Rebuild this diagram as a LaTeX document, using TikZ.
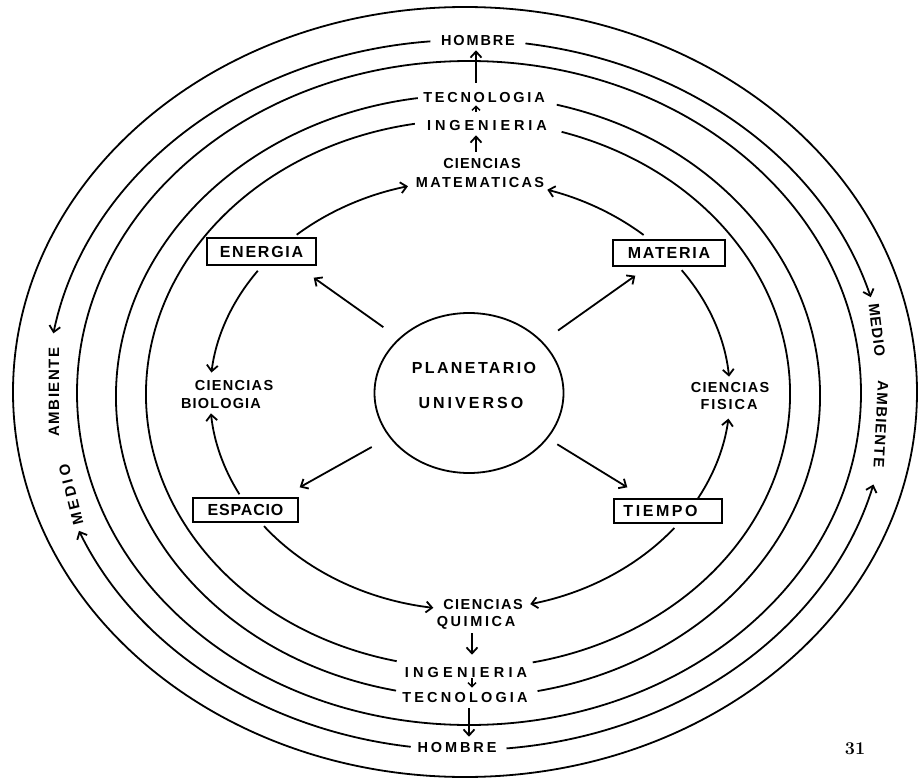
\documentclass[tikz,border=0pt]{standalone}
\usepackage{fontspec}
\usetikzlibrary{arrows.meta,calc,shapes.geometric}
\newfontfamily\labfont{Liberation Sans}
\newcommand{\ls}[1]{\addfontfeature{LetterSpace=#1}}
\begin{document}
\begin{tikzpicture}[x=1pt,y=-1pt,
  ring/.style={line width=1.8pt},
  arr/.style={line width=1.8pt,-{Straight Barb[length=6pt,width=11pt]}},
  sarr/.style={line width=1.5pt,-{Straight Barb[length=4pt,width=8pt]}},
  lab/.style={inner sep=0pt,text depth=0pt,font=\labfont\bfseries\fontsize{14.5}{14.5}\selectfont},
  biglab/.style={inner sep=0pt,text depth=0pt,font=\labfont\bfseries\fontsize{16}{16}\selectfont},
  sidelab/.style={inner sep=0pt,text depth=0pt,font=\labfont\bfseries\fontsize{15}{15}\selectfont},
  box/.style={draw,line width=1.4pt,inner sep=0pt,text depth=0pt,font=\labfont\bfseries\fontsize{16}{16}\selectfont}]
\useasboundingbox (0,0) rectangle (919,781);
\fill[white] (0,0) rectangle (919,781);

% centres of the rings
\coordinate (C1) at (465,392);
\coordinate (C2) at (467,395);
\coordinate (C3) at (469,393);
\coordinate (C4) at (468,396);
\coordinate (C5) at (468,394);
\coordinate (Ci) at (470,395);

% full rings
\draw[ring] (C1) ellipse [x radius=452, y radius=385];
\draw[ring] (C3) ellipse [x radius=392, y radius=332];

% ring 4 (TECNOLOGIA)
\draw[ring] (C4) ++(-75.4:352 and 301) arc[start angle=-75.4, end angle=78.6, x radius=352, y radius=301];
\draw[ring] (C4) ++(101.8:352 and 301) arc[start angle=101.8, end angle=261.8, x radius=352, y radius=301];
% ring 5 (INGENIERIA)
\draw[ring] (C5) ++(-73.1:322 and 274) arc[start angle=-73.1, end angle=78.4, x radius=322, y radius=274];
\draw[ring] (C5) ++(102.8:322 and 274) arc[start angle=102.8, end angle=260.5, x radius=322, y radius=274];
% ring 2 (HOMBRE / MEDIO AMBIENTE)
\draw[arr] (C2) ++(265:420 and 355) arc[start angle=265, end angle=190, x radius=420, y radius=355];
\draw[arr] (C2) ++(97.7:420 and 355) arc[start angle=97.7, end angle=157.5, x radius=420, y radius=355];
\draw[arr] (C2) ++(-82:420 and 355) arc[start angle=-82, end angle=-16, x radius=420, y radius=355];
\draw[arr] (C2) ++(84.6:420 and 355) arc[start angle=84.6, end angle=14.6, x radius=420, y radius=355];

% centre
\node[ellipse,draw,line width=1.8pt,minimum width=189pt,minimum height=160pt,inner sep=0pt] (planet) at (469,393) {};
\node[biglab] (plan) at (474,368) {\ls{15}PLANETARIO};
\node[biglab] (univ) at (471,403) {\ls{19}UNIVERSO};

% boxes
\node[box,minimum width=109pt,minimum height=27pt] (energia) at (261.5,251.5) {\ls{11}ENERGIA};
\node[box,minimum width=112pt,minimum height=26pt] (materia) at (669,253) {\ls{11}MATERIA};
\node[box,minimum width=105pt,minimum height=24pt] (espacio) at (245.5,510) {\ls{5}ESPACIO};
\node[box,minimum width=108pt,minimum height=24pt] (tiempo) at (668,511) {\ls{16}TIEMPO\hspace*{15pt}};

% labels
\node[lab] (homT) at (478,40) {\ls{13}HOMBRE};
\node[lab] (tecT) at (484,97) {\ls{19}TECNOLOGIA};
\node[lab] (ingT) at (487,125) {\ls{27}INGENIERIA};
\node[lab] (cienT) at (482,163) {\ls{8}CIENCIAS};
\node[lab] (matT) at (480,182) {\ls{16}MATEMATICAS};
\node[lab] (cienL) at (234,385) {\ls{9}CIENCIAS};
\node[lab] (bioL) at (221,403) {\ls{8}BIOLOGIA};
\node[lab] (cienR) at (730,387) {\ls{9}CIENCIAS};
\node[lab] (fisR) at (729,404) {\ls{13}FISICA};
\node[lab] (cienB) at (483,604) {\ls{10}CIENCIAS};
\node[lab] (quimB) at (476,621) {\ls{18}QUIMICA};
\node[lab] (ingB) at (466,672) {\ls{29}INGENIERIA};
\node[lab] (tecB) at (465,697) {\ls{22}TECNOLOGIA};
\node[lab] (homB) at (457,747) {\ls{20}HOMBRE};

\node[sidelab,rotate=90] (ambL) at (54,392) {\ls{10}AMBIENTE};
\node[sidelab,rotate=104] (medL) at (71,495) {\ls{22}MEDIO};
\node[sidelab,rotate=-83] (medR) at (877,330) {\ls{7}MEDIO};
\node[sidelab,rotate=-93] (ambR) at (881,424) {\ls{8}AMBIENTE};

\node[inner sep=0pt,font=\bfseries\fontsize{18}{18}\selectfont] (pg) at (855,749) {31};

% inner arcs (ciencias ring)
\draw[arr] (Ci) ++(228.2:260 and 215) arc[start angle=228.2, end angle=256.2, x radius=260, y radius=215];
\draw[arr] (Ci) ++(-48.1:260 and 215) arc[start angle=-48.1, end angle=-72.7, x radius=260, y radius=215];
\draw[arr] (Ci) ++(215.3:260 and 215) arc[start angle=215.3, end angle=186, x radius=260, y radius=215];
\draw[arr] (Ci) ++(152.5:260 and 215) arc[start angle=152.5, end angle=175.1, x radius=260, y radius=215];
\draw[arr] (Ci) ++(-35.5:260 and 215) arc[start angle=-35.5, end angle=-4.9, x radius=260, y radius=215];
\draw[arr] (Ci) ++(28.7:260 and 215) arc[start angle=28.7, end angle=6.3, x radius=260, y radius=215];
\draw[arr] (Ci) ++(142.4:260 and 215) arc[start angle=142.4, end angle=98.1, x radius=260, y radius=215];
\draw[arr] (Ci) ++(38.2:260 and 215) arc[start angle=38.2, end angle=76.6, x radius=260, y radius=215];

% radial arrows
\draw[arr,shorten <=19pt] (planet.142) -- ($(energia.south east)+(-3,12)$);
\draw[arr,shorten <=19pt] (planet.35) -- ($(materia.south west)+(23,9)$);
\draw[arr,shorten <=20pt] (planet.209) -- ($(espacio.north east)+(1,-10)$);
\draw[arr,shorten <=11pt] (planet.330) -- ($(tiempo.north west)+(14,-11)$);

% vertical arrows
\draw[arr] ($(tecT.north)+(-8,-9)$) -- ($(homT.south)+(-2,5)$);
\draw[sarr] ($(ingT.north)+(-11,-8)$) -- ($(tecT.south)+(-8,3)$);
\draw[arr] ($(cienT.north)+(-6,-6)$) -- ($(ingT.south)+(-11,5)$);
\draw[arr] ($(quimB.south)+(-4,7)$) -- ($(ingB.north)+(6,-12)$);
\draw[sarr] ($(ingB.south)+(6,1)$) -- ($(tecB.north)+(7,-4)$);
\draw[arr] ($(tecB.south)+(4,6)$) -- ($(homB.north)+(12,-5)$);
\end{tikzpicture}
\end{document}
